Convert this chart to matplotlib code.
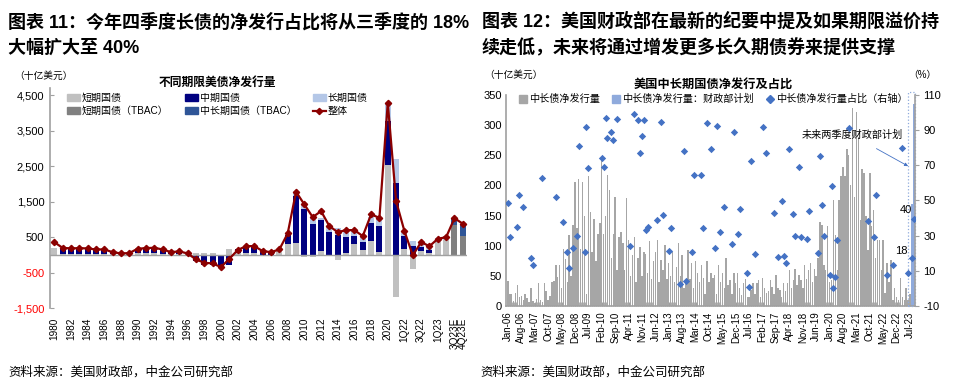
import matplotlib
matplotlib.use('Agg')
import matplotlib.pyplot as plt
import numpy as np
from matplotlib.patches import Patch, Rectangle
from matplotlib.lines import Line2D
from matplotlib.ticker import FuncFormatter, MultipleLocator

plt.rcParams['font.family'] = ['Liberation Sans', 'Noto Sans CJK SC']
plt.rcParams['axes.unicode_minus'] = False

# ---------------- Left chart data (十亿美元) ----------------
periods = [str(y) for y in range(1980, 2022)] + ['1Q22', '2Q22', '3Q22', '4Q22', '1Q23', '2Q23', '3Q23E', '4Q23E']
short_bills = [200, 30, 30, 30, 30, 30, 30, 20, 10, 30, 60, 40, 40, 30, 20, 20, 10, 40, 60, 40,
               0, 170, 40, 50, 60, -20, -10, 100, 290, 320, -60, -50, 110, -30, -150, 56, 290, 130, 376, 75,
               2540, -1180, 150, -400, 100, 50, 380, 410, 0, 0]
medium_notes = [0, 130, 130, 140, 130, 120, 120, 40, 20, 10, 100, 140, 140, 110, 50, 60, 20, -180, -290, -280,
                -340, -280, 110, 200, 180, 120, 90, 60, 260, 1330, 1300, 880, 860, 640, 570, 440, 250, 225, 510, 730,
                1220, 2030, 370, 240, 125, 90, -40, -30, 0, 0]
long_bonds = [0, 20, 20, 20, 20, 10, 10, 10, 10, 10, 10, 10, 10, 10, 10, 10, 10, 0, 0, 0,
              0, 0, 0, 0, 0, 0, 0, 0, 50, 95, 110, 150, 65, 170, 190, 170, 120, 170, 180, 210,
              520, 670, 140, 140, 130, 100, 100, 115, 0, 0]
short_tbac = [0] * 48 + [850, 520]
medlong_tbac = [0] * 48 + [160, 330]
total_net = [357, 197, 178, 188, 178, 150, 150, 75, 38, 47, 169, 188, 197, 150, 75, 94, 38, -131, -225, -244,
             -347, -113, 131, 244, 244, 103, 75, 150, 601, 1775, 1418, 1061, 1230, 808, 638, 695, 695, 526, 1136, 1042,
             4282, 1510, 665, -15, 355, 242, 450, 496, 1031, 874]

# ---------------- Right chart data ----------------
months = [f"{['Jan','Feb','Mar','Apr','May','Jun','Jul','Aug','Sep','Oct','Nov','Dec'][i % 12]}-{(6 + i // 12):02d}"
          for i in range(211)]  # Jan-06 ... Jul-23
coupon_net = [42, 20, 20, 8, 22, 35, 15, 17, 10, 20, 14, 6,
              30, 8, 5, 12, 38, 10, 6, 38, 25, 10, 16, 40,
              42, 68, 48, 68, 30, 95, 78, 40, 118, 50, 135, 205,
              130, 210, 95, 205, 150, 20, 215, 156, 90, 145, 75, 120,
              137, 242, 120, 150, 217, 192, 80, 120, 181, 60, 115, 123,
              104, 60, 179, 109, 50, 85, 115, 40, 79, 98, 50, 90,
              87, 55, 107, 45, 74, 90, 109, 40, 76, 60, 101, 45,
              71, 50, 90, 40, 65, 104, 50, 85, 30, 40, 93, 45,
              71, 30, 74, 54, 40, 68, 46, 20, 74, 40, 54, 46,
              51, 20, 68, 40, 54, 30, 79, 35, 43, 20, 54, 38,
              54, 30, 18, 38, 45, 15, 15, 27, 38, 20, 38, 43,
              15, 46, 30, 21, 25, 43, 32, 20, 51, 30, 27, 15,
              38, 25, 38, 60, 30, 43, 62, 35, 51, 43, 30, 68,
              45, 60, 71, 40, 62, 50, 80, 140, 134, 68, 60, 132,
              40, 43, 175, 118, 60, 176, 215, 230, 215, 260, 250, 200,
              328, 181, 322, 280, 143, 228, 220, 150, 93, 220, 132, 159,
              80, 109, 109, 60, 109, 21, 71, 40, 76, 10, 30, 15,
              10, 46, 15, 10, 30, 10, 20]
plan_labels = ['3Q23E', '4Q23E']
plan_values = [170, 335]
share_month_idx = [0, 1, 5, 6, 8, 12, 13, 18, 25, 29, 31, 32, 34, 36, 37, 40, 41, 42, 49, 50, 51, 52, 54, 55, 57,
                   64, 66, 68, 69, 70, 71, 72, 73, 78, 80, 81, 84, 85, 90, 92, 93, 96, 97, 101, 102, 104, 106, 108,
                   109, 111, 113, 117, 118, 120, 121, 125, 126, 127, 129, 133, 135, 139, 141, 143, 144, 145, 147,
                   149, 150, 152, 153, 156, 157, 162, 163, 164, 165, 168, 169, 170, 171, 172, 178, 188, 191, 192,
                   198, 201, 206, 209, 211, 212]
share_pct = [48.4, 29.4, 35.1, 53.1, 46.5, 17.1, 13.3, 62.6, 51.8, 37.6, 20.5, 11.4, 22.8, 30.0, 80.8, 20.9, 91.6,
             68.3, 73.9, 69.2, 97.1, 85.4, 89.1, 84.4, 96.2, 24.1, 99.2, 95.8, 76.8, 86.4, 95.8, 33.5, 35.1, 38.9,
             94.5, 41.6, 21.2, 34.1, 2.5, 78.0, 4.2, 20.6, 64.5, 64.5, 34.5, 93.9, 79.1, 23.1, 92.4, 31.9, 46.3,
             25.0, 88.7, 30.8, 44.9, 8.7, 0.7, 72.6, 19.3, 91.6, 77.2, 43.1, 17.9, 49.7, 18.3, 14.3, 79.1, 42.2,
             30.0, 69.2, 29.1, 28.2, 44.2, 20.0, 75.3, 47.4, 30.0, 7.6, 58.0, 0.4, 6.5, 27.7, 91.1, 38.3, 29.4,
             53.3, 7.8, 13.1, 80.0, 8.8, 17.5, 39.5]

# ---------------- Figure ----------------
fig = plt.figure(figsize=(9.54, 3.87), dpi=100)
W, H = 954, 387

def fx(px):
    return px / W

def fy(py):
    return 1 - py / H

# Titles
title_kw = dict(fontsize=13, fontweight='bold', va='center', ha='left', color='#000000')
fig.text(fx(8), fy(22), '图表 11：今年四季度长债的净发行占比将从三季度的 18%', **title_kw)
fig.text(fx(8), fy(48), '大幅扩大至 40%', **title_kw)
fig.text(fx(482), fy(22), '图表 12：美国财政部在最新的纪要中提及如果期限溢价持', **title_kw)
fig.text(fx(482), fy(48), '续走低，未来将通过增发更多长久期债券来提供支撑', **title_kw)

# Footnotes
fig.text(fx(8), fy(372), '资料来源：美国财政部，中金公司研究部', fontsize=9, va='center', ha='left')
fig.text(fx(480), fy(372), '资料来源：美国财政部，中金公司研究部', fontsize=9, va='center', ha='left')

# ================= Left chart =================
axL = fig.add_axes([fx(50), fy(308), fx(417), (308 - 88) / H])
x = np.arange(len(periods))
series = [
    (short_bills, '#C0C0C0', '短期国债'),
    (medium_notes, '#000080', '中期国债'),
    (long_bonds, '#B4C7E7', '长期国债'),
    (short_tbac, '#808080', '短期国债（TBAC）'),
    (medlong_tbac, '#2F5597', '中长期国债（TBAC）'),
]
pos_bottom = np.zeros(len(x))
neg_bottom = np.zeros(len(x))
for vals, col, lab in series:
    v = np.array(vals, dtype=float)
    bottoms = np.where(v >= 0, pos_bottom, neg_bottom)
    axL.bar(x, v, bottom=bottoms, width=0.72, color=col, linewidth=0, zorder=2)
    pos_bottom += np.where(v >= 0, v, 0)
    neg_bottom += np.where(v < 0, v, 0)
axL.plot(x, total_net, color='#8B0000', lw=1.6, marker='D', ms=3.2, zorder=4)
axL.axhline(0, color='#A0A0A0', lw=1, zorder=3)

axL.set_xlim(-0.5, len(x) - 0.5)
axL.set_ylim(-1500, 4700)
axL.set_yticks([-1500, -500, 500, 1500, 2500, 3500, 4500])
axL.yaxis.set_major_formatter(FuncFormatter(lambda v, p: f'{v:,.0f}'))
axL.tick_params(axis='y', direction='in', length=3, color='#A0A0A0', labelsize=8, pad=4)
for t, val in zip(axL.get_yticklabels(), axL.get_yticks()):
    t.set_color('#FF0000' if val < 0 else '#000000')
tick_idx = list(range(0, len(x) - 1, 2)) + [len(x) - 1]
axL.set_xticks(tick_idx)
axL.set_xticklabels([periods[i] for i in tick_idx], rotation=90, fontsize=7.2)
axL.tick_params(axis='x', length=0, pad=7)
for s in ['top', 'right', 'bottom']:
    axL.spines[s].set_visible(False)
axL.spines['left'].set_color('#A0A0A0')
axL.spines['left'].set_linewidth(1.2)

fig.text(fx(14), fy(76), '（十亿美元）', fontsize=7, va='center', ha='left')

handlesL = [
    Patch(color='#C0C0C0'), Patch(color='#808080'),
    Patch(color='#000080'), Patch(color='#2F5597'),
    Patch(color='#B4C7E7'), Line2D([], [], color='#8B0000', lw=1.6, marker='D', ms=3.2),
]
labelsL = ['短期国债', '短期国债（TBAC）', '中期国债', '中长期国债（TBAC）', '长期国债', '整体']
legL = fig.legend(handlesL, labelsL, ncol=3, loc='upper left', bbox_to_anchor=(fx(62), fy(72)),
                  frameon=False, fontsize=7.2, title='不同期限美债净发行量',
                  title_fontproperties={'weight': 'bold', 'size': 8.5},
                  handlelength=1.3, handleheight=0.7, handletextpad=0.2, columnspacing=1.6,
                  labelspacing=0.35, borderpad=0)

# ================= Right chart =================
axR = fig.add_axes([fx(506), fy(306), fx(409), (306 - 95) / H])
m = np.arange(len(coupon_net))
axR.bar(m, coupon_net, width=0.75, color='#A6A6A6', linewidth=0, zorder=2)
plan_x = len(coupon_net) + np.arange(len(plan_values))
axR.bar(plan_x, plan_values, width=0.75, color='#8FAADC', linewidth=0, zorder=2)
axR.set_xlim(-1, 212.6)
axR.set_ylim(0, 350)
axR.set_yticks(np.arange(0, 351, 50))
axR.tick_params(axis='y', length=0, labelsize=8, pad=3)
lab_idx = list(range(0, len(months), 7))
axR.set_xticks(lab_idx)
axR.set_xticklabels([months[i] for i in lab_idx], rotation=90, fontsize=7)
axR.set_xticks(np.arange(0, len(months) + 2), minor=True)
axR.tick_params(axis='x', which='both', direction='in', length=3, color='#A0A0A0', pad=4)
for s in ['top', 'right']:
    axR.spines[s].set_visible(False)
for s in ['left', 'bottom']:
    axR.spines[s].set_color('#A0A0A0')
    axR.spines[s].set_linewidth(1.2)

axR2 = axR.twinx()
axR2.set_ylim(-10, 110)
axR2.set_yticks(np.arange(-10, 111, 20))
axR2.tick_params(axis='y', direction='out', length=3, color='#A0A0A0', labelsize=8, pad=3)
axR2.scatter(share_month_idx, share_pct, marker='D', s=14, color='#4472C4', zorder=5, linewidths=0)
for s in ['top', 'left', 'bottom']:
    axR2.spines[s].set_visible(False)
axR2.spines['right'].set_color('#A0A0A0')
axR2.spines['right'].set_linewidth(1.2)

# labels for last two share points
axR2.text(share_month_idx[-1] - 1.2, share_pct[-1] + 5, f'{share_pct[-1]:.0f}', fontsize=8, ha='right', va='center')
axR2.text(share_month_idx[-2] - 2.2, share_pct[-2] + 4, f'{share_pct[-2]:.0f}', fontsize=8, ha='right', va='center')

# dotted box around plan
axR.add_patch(Rectangle((209, 0), 3.6, 355, fill=False, ls=':', lw=0.9, ec='#8FAADC', clip_on=False, zorder=6))
axR.annotate('未来两季度财政部计划', xy=(209, 232), xytext=(180, 283), fontsize=7.3, ha='center', va='center',
             arrowprops=dict(arrowstyle='-|>', color='#4472C4', lw=0.6, mutation_scale=5,
                             shrinkA=8, shrinkB=0))

fig.text(fx(484), fy(75), '（十亿美元）', fontsize=7, va='center', ha='left')
fig.text(fx(908), fy(75), '（%）', fontsize=7, va='center', ha='left')

handlesR = [Patch(color='#A6A6A6'), Patch(color='#8FAADC'),
            Line2D([], [], ls='none', marker='D', ms=4, color='#4472C4')]
labelsR = ['中长债净发行量', '中长债净发行量：财政部计划', '中长债净发行量占比（右轴）']
fig.legend(handlesR, labelsR, ncol=3, loc='upper left', bbox_to_anchor=(fx(514), fy(74)),
           frameon=False, fontsize=7.3, title='美国中长期国债净发行及占比',
           title_fontproperties={'weight': 'bold', 'size': 8.8},
           handlelength=0.8, handleheight=0.8, handletextpad=0.2, columnspacing=1.2,
           labelspacing=0.3, borderpad=0)

fig.savefig('out.png', dpi=100)
